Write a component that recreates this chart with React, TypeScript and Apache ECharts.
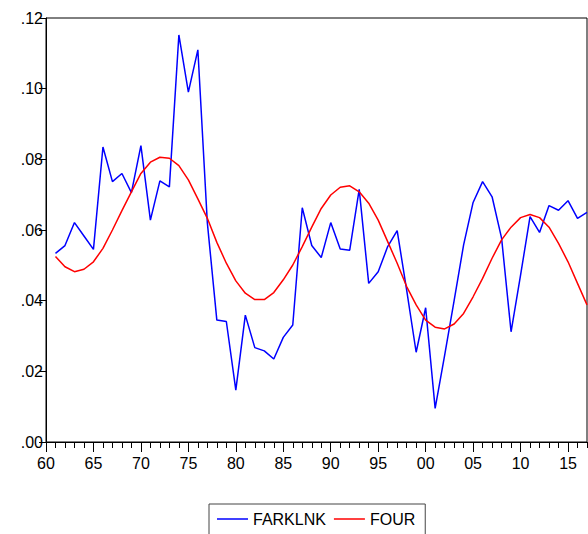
import React, { useEffect, useRef } from "react";
import * as echarts from "echarts";

const years = [
  1961, 1962, 1963, 1964, 1965, 1966, 1967, 1968, 1969, 1970,
  1971, 1972, 1973, 1974, 1975, 1976, 1977, 1978, 1979, 1980,
  1981, 1982, 1983, 1984, 1985, 1986, 1987, 1988, 1989, 1990,
  1991, 1992, 1993, 1994, 1995, 1996, 1997, 1998, 1999, 2000,
  2001, 2002, 2003, 2004, 2005, 2006, 2007, 2008, 2009, 2010,
  2011, 2012, 2013, 2014, 2015, 2016, 2017,
];

const farklnk = [
  0.0534, 0.0556, 0.0621, 0.0583, 0.0545, 0.0835, 0.0737, 0.076, 0.0706, 0.0839,
  0.0628, 0.0739, 0.0722, 0.1152, 0.099, 0.111, 0.062, 0.0345, 0.0341, 0.0147,
  0.0359, 0.0267, 0.0258, 0.0235, 0.0296, 0.0331, 0.0663, 0.0556, 0.0522, 0.0621,
  0.0546, 0.0543, 0.0715, 0.0449, 0.0482, 0.0553, 0.0598, 0.043, 0.0254, 0.038,
  0.0095, 0.0245, 0.04, 0.0558, 0.0678, 0.0737, 0.0694, 0.0577, 0.0312, 0.0472,
  0.0638, 0.0593, 0.0669, 0.0656, 0.0683, 0.0633, 0.065,
];

const four = [
  0.0525, 0.0496, 0.0482, 0.0489, 0.051, 0.0548, 0.06, 0.0655, 0.0708, 0.076,
  0.0792, 0.0806, 0.0803, 0.0782, 0.0742, 0.0688, 0.0633, 0.0565, 0.0506, 0.0456,
  0.0421, 0.0403, 0.0403, 0.0423, 0.0459, 0.0501, 0.0553, 0.0608, 0.0661, 0.0699,
  0.0721, 0.0725, 0.0708, 0.0676, 0.0628, 0.0567, 0.0506, 0.044, 0.0388, 0.0345,
  0.0325, 0.032, 0.0334, 0.0364, 0.0411, 0.0463, 0.052, 0.0572, 0.0608, 0.0635,
  0.0644, 0.0635, 0.0608, 0.0562, 0.051, 0.0449, 0.0388,
];

const xTickYears = [1960, 1965, 1970, 1975, 1980, 1985, 1990, 1995, 2000, 2005, 2010, 2015];
const xMin = 1960;
const xMax = 2017;

const FONT = "'Liberation Sans', Arial, sans-serif";

export default function App() {
  const ref = useRef<HTMLDivElement>(null);
  useEffect(() => {
    if (!ref.current) return;
    const chart = echarts.init(ref.current, undefined, { renderer: "svg" });
    chart.setOption({
      animation: false,
      backgroundColor: "#fff",
      grid: {
        left: 46,
        right: 1,
        top: 18,
        bottom: 92,
        show: true,
        borderColor: "#000",
        borderWidth: 1,
        containLabel: false,
      },
      legend: {
        data: ["FARKLNK", "FOUR"],
        left: 209,
        top: 504,
        orient: "horizontal",
        icon: "rect",
        padding: [7, 10, 20, 8],
        itemWidth: 31,
        itemHeight: 1.5,
        itemGap: 8,
        borderColor: "#444",
        borderWidth: 1,
        textStyle: { color: "#000", fontSize: 16, fontFamily: FONT },
      },
      xAxis: [
        {
          type: "value",
          min: xMin,
          max: xMax,
          interval: 1,
          position: "bottom",
          axisLine: { show: true, lineStyle: { color: "#000", width: 1 } },
          axisTick: { show: true, inside: false, length: 6, lineStyle: { color: "#000" } },
          axisLabel: { show: false },
          splitLine: { show: false },
        },
        {
          type: "value",
          min: xMin,
          max: xMax,
          interval: 5,
          position: "bottom",
          axisLine: { show: false },
          axisTick: {
            show: true,
            inside: false,
            length: 10,
            customValues: xTickYears,
            lineStyle: { color: "#000" },
          },
          axisLabel: {
            show: true,
            customValues: xTickYears,
            margin: 13,
            color: "#000",
            fontSize: 16,
            fontFamily: FONT,
            formatter: (v: number) => String(v % 100).padStart(2, "0"),
          },
          splitLine: { show: false },
        },
      ],
      yAxis: {
        type: "value",
        min: 0,
        max: 0.12,
        interval: 0.02,
        axisLine: { show: true, lineStyle: { color: "#000" } },
        axisTick: { show: true, inside: false, length: 7, lineStyle: { color: "#000" } },
        axisLabel: {
          color: "#000",
          fontSize: 16,
          fontFamily: FONT,
          margin: 3,
          formatter: (v: number) => v.toFixed(2).replace(/^0/, ""),
        },
        splitLine: { show: false },
      },
      series: [
        {
          name: "FARKLNK",
          type: "line",
          xAxisIndex: 0,
          symbol: "none",
          data: years.map((y, i) => [y, farklnk[i]]),
          lineStyle: { color: "#0000FF", width: 1.5 },
          itemStyle: { color: "#0000FF" },
        },
        {
          name: "FOUR",
          type: "line",
          xAxisIndex: 0,
          symbol: "none",
          data: years.map((y, i) => [y, four[i]]),
          lineStyle: { color: "#FF0000", width: 1.5 },
          itemStyle: { color: "#FF0000" },
        },
      ],
    });
    return () => chart.dispose();
  }, []);
  return (
    <div
      ref={ref}
      style={{ position: "fixed", left: 0, top: 0, width: 588, height: 534, background: "#fff" }}
    />
  );
}
